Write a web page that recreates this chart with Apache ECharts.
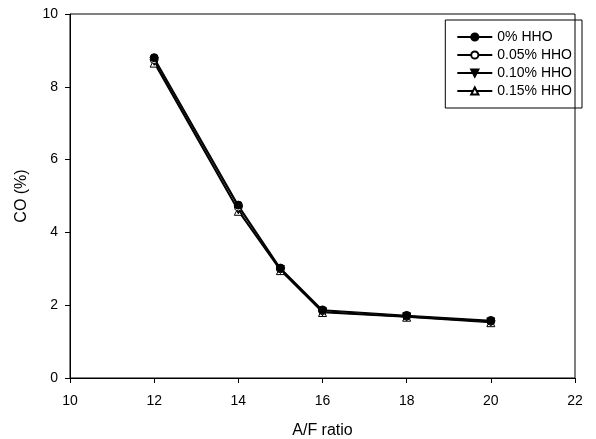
<!DOCTYPE html>
<html><head><meta charset="utf-8">
<script src="https://cdn.jsdelivr.net/npm/echarts@6/dist/echarts.min.js"></script>
<style>html,body{margin:0;padding:0;background:#fff}#c{width:596px;height:439px}</style>
</head><body><div id="c"></div>
<script>
const afRatio = [12, 14, 15, 16, 18, 20];
const hho0 = [8.80, 4.75, 3.02, 1.87, 1.72, 1.58];
const hho005 = [8.75, 4.70, 3.00, 1.85, 1.70, 1.56];
const hho010 = [8.70, 4.62, 2.98, 1.82, 1.68, 1.54];
const hho015 = [8.65, 4.58, 2.95, 1.80, 1.67, 1.52];
const seriesNames = ['0% HHO', '0.05% HHO', '0.10% HHO', '0.15% HHO'];
const xTicks = [10, 12, 14, 16, 18, 20, 22];
const yTicks = [0, 2, 4, 6, 8, 10];

const font = 'Liberation Sans, Arial, sans-serif';
const styles = [
  {symbol: 'circle', fill: '#000', rotate: 0},
  {symbol: 'circle', fill: '#fff', rotate: 0},
  {symbol: 'triangle', fill: '#000', rotate: 180},
  {symbol: 'triangle', fill: '#fff', rotate: 0}
];
const allData = [hho0, hho005, hho010, hho015];
const series = allData.map((vals, i) => ({
  name: seriesNames[i],
  type: 'line',
  data: afRatio.map((x, j) => [x, vals[j]]),
  symbol: styles[i].symbol,
  symbolRotate: styles[i].rotate,
  symbolSize: 8,
  lineStyle: {color: '#000', width: 1.3},
  itemStyle: {color: styles[i].fill, borderColor: '#000', borderWidth: 1},
  emphasis: {disabled: true},
  animation: false,
  z: 10 - i
}));

const chart = echarts.init(document.getElementById('c'), null, {renderer: 'canvas'});
chart.setOption({
  backgroundColor: '#fff',
  animation: false,
  grid: {left: 70, right: 21, top: 14, bottom: 61, show: true, borderColor: '#000', borderWidth: 1,
    containLabel: false, outerBoundsMode: 'none'},
  legend: {
    data: seriesNames,
    orient: 'vertical',
    right: 14, top: 20,
    itemWidth: 35, itemHeight: 9, itemGap: 4,
    borderColor: '#000', borderWidth: 1,
    padding: [10, 10, 10, 11],
    textStyle: {fontFamily: font, fontSize: 14, color: '#000'}
  },
  xAxis: {
    type: 'value', min: 10, max: 22, interval: 2,
    name: 'A/F ratio', nameLocation: 'middle', nameGap: 45,
    nameTextStyle: {fontFamily: font, fontSize: 16, color: '#000'},
    axisLine: {show: true, lineStyle: {color: '#000', width: 1}},
    axisTick: {show: true, inside: false, length: 5, lineStyle: {color: '#000'}},
    axisLabel: {fontFamily: font, fontSize: 14, color: '#000', margin: 16,
      formatter: v => xTicks.includes(v) ? String(v) : ''},
    splitLine: {show: false}
  },
  yAxis: {
    type: 'value', min: 0, max: 10, interval: 2,
    name: 'CO (%)', nameLocation: 'middle', nameGap: 40,
    nameTextStyle: {fontFamily: font, fontSize: 16, color: '#000'},
    axisLine: {show: true, lineStyle: {color: '#000', width: 1}},
    axisTick: {show: true, inside: false, length: 5, lineStyle: {color: '#000'}},
    axisLabel: {fontFamily: font, fontSize: 14, color: '#000', margin: 12,
      formatter: v => yTicks.includes(v) ? String(v) : ''},
    splitLine: {show: false}
  },
  series: series
});
</script></body></html>
